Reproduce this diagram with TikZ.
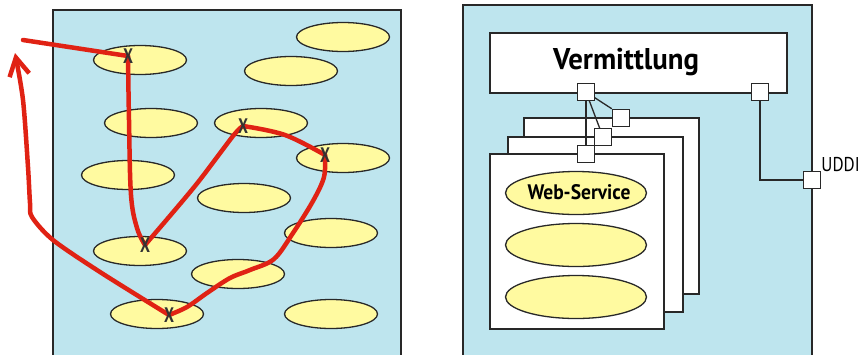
\documentclass[tikz,border=0pt]{standalone}
\usepackage{fontspec}
\setmainfont{PT Sans}
\usetikzlibrary{shapes.geometric,arrows.meta}

\definecolor{panelblue}{RGB}{190,229,238}
\definecolor{blobyellow}{RGB}{255,250,160}
\definecolor{edgegray}{RGB}{40,40,40}
\definecolor{routered}{RGB}{224,34,20}

\begin{document}
\begin{tikzpicture}[x=1pt,y=1pt,
  panelbox/.style={draw=edgegray,fill=panelblue,line width=2pt},
  blob/.style={ellipse,draw=edgegray,fill=blobyellow,line width=1.3pt,
    minimum width=93pt,minimum height=29pt,inner sep=0pt},
  bigblob/.style={blob,minimum width=141pt,minimum height=43pt},
  cross/.style={font=\bfseries\fontsize{21}{21}\selectfont,text=black!80,inner sep=0pt,xscale=0.75},
  route/.style={draw=routered,line width=4.5pt,line cap=round,line join=round},
  port/.style={draw=edgegray,fill=white,line width=1.5pt,minimum size=17pt,inner sep=0pt},
  sheet/.style={draw=edgegray,fill=white,line width=1.5pt,inner sep=0pt,anchor=north west},
  wire/.style={draw=edgegray,line width=1.3pt}]

\useasboundingbox (0,0) rectangle (864,-354);
\clip (0,0) rectangle (864,-354);
\fill[white] (0,0) rectangle (864,-354);

% ---------- left: loose services with an ad-hoc route ----------
\draw[panelbox] (53,-10) rectangle (401,-370);

\node[blob] (e1)  at (343,-37)  {};
\node[blob] (e2)  at (291,-71)  {};
\node[blob] (e3)  at (140,-60)  {};
\node[blob] (e4)  at (151,-123) {};
\node[blob] (e5)  at (261,-123) {};
\node[blob] (e6)  at (343,-158) {};
\node[blob] (e7)  at (128,-175) {};
\node[blob] (e8)  at (244,-198) {};
\node[blob] (e9)  at (331,-233) {};
\node[blob] (e10) at (140,-251) {};
\node[blob] (e11) at (238,-274) {};
\node[blob] (e12) at (157,-314) {};
\node[blob] (e13) at (331,-314) {};

\coordinate (start) at (23,-40);
\coordinate (tip)   at (15,-53);
\coordinate (mA) at (128,-56);
\coordinate (mB) at (243,-126);
\coordinate (mC) at (325,-155);
\coordinate (mD) at (145,-245);
\coordinate (mE) at (169,-315);

\draw[route] (start) -- (mA);
\draw[route] plot[smooth,tension=0.6] coordinates
  {(mA) (129,-120) (131,-195) (137,-228) (mD)};
\draw[route] plot[smooth,tension=0.5] coordinates
  {(mD) (195,-186) (233,-136) (mB)};
\draw[route] plot[smooth,tension=0.6] coordinates
  {(mB) (285,-135) (mC)};
\draw[route] plot[smooth,tension=0.55] coordinates
  {(mC) (324,-177) (313,-201) (293,-233) (274,-259) (250,-270)
   (230,-278) (207,-293) (187,-307) (mE)};
\draw[route,-{Straight Barb[length=18pt,width=20pt]}]
  plot[smooth,tension=0.5] coordinates
  {(mE) (100,-272) (53,-240) (32,-217) (30,-203) (28,-167) (23,-100) (tip)};

\node[cross] (xA) at (mA) {X};
\node[cross] (xB) at (mB) {X};
\node[cross] (xC) at (mC) {X};
\node[cross] (xD) at (mD) {X};
\node[cross] (xE) at (mE) {X};

% ---------- right: brokered services ----------
\draw[panelbox] (463,-5) rectangle (812,-370);

\node[sheet,minimum width=297pt,minimum height=60pt] (broker) at (489,-32) {};
\node[font=\bfseries\fontsize{30}{30}\selectfont,inner sep=0pt,xscale=0.96]
  (brokerlabel) at (626,-62) {Vermittlung};

\node[sheet,minimum width=175pt,minimum height=176pt] (pageback)  at (523,-117) {};
\node[sheet,minimum width=175pt,minimum height=175pt] (pagemid)   at (507,-136) {};
\node[sheet,minimum width=174pt,minimum height=175pt] (pagefront) at (489,-153) {};

\node[bigblob] (ws1) at (576,-193) {};
\node[font=\bfseries\fontsize{21}{21}\selectfont,inner sep=0pt,xscale=0.93]
  (ws1label) at (579,-192) {Web-Service};
\node[bigblob] (ws2) at (576,-245) {};
\node[bigblob] (ws3) at (576,-297) {};

% ports of the broker and of the three service pages
\node[port] (pv) at (586,-92)  {};
\node[port] (pr) at (760,-92)  {};
\node[port] (pu) at (812,-180) {};
\node[port] (pb) at (621,-118) {};
\node[port] (pm) at (603,-137) {};
\node[port] (pf) at (586,-154) {};

% wiring
\draw[wire] (pv.center) -- (pf.center);
\draw[wire] (pv.center) -- (pm.center);
\draw[wire] (pv.center) -- (pb.north west);
\draw[wire] (pr.center) |- (pu.center);

% port squares again, on top of the wires
\node[port] at (pv) {};
\node[port] at (pr) {};
\node[port] at (pu) {};
\node[port] at (pb) {};
\node[port] at (pm) {};
\node[port] at (pf) {};

\node[font=\fontsize{20}{20}\selectfont,inner sep=0pt,xscale=0.85,anchor=south west]
  (uddi) at ([yshift=-1pt]pu.north east) {UDDI};
\end{tikzpicture}
\end{document}
